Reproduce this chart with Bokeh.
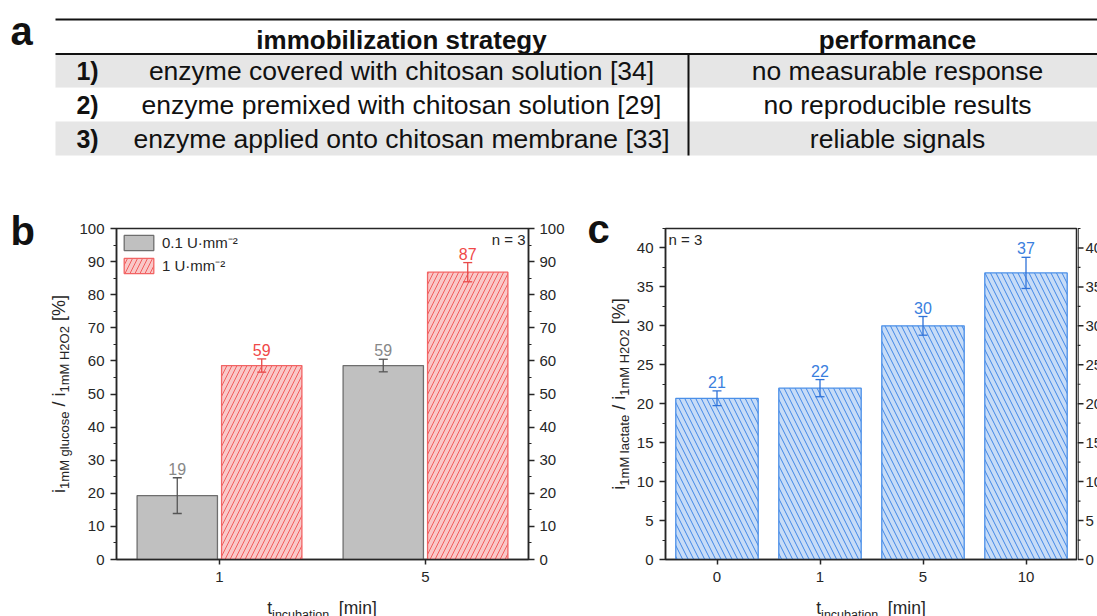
import math

from bokeh.core.properties import value
from bokeh.embed import file_html
from bokeh.layouts import column, row
from bokeh.models import (ColumnDataSource, FactorRange, Label, Legend, LegendItem,
                          LinearAxis, Range1d, SingleIntervalTicker, TeeHead, Whisker)
from bokeh.plotting import figure
from bokeh.resources import INLINE
from bokeh.transform import dodge

FONT = "Liberation Sans"
INK = "#262626"

# ---------------- data ----------------
# (a) immobilization strategies
table_header = ["immobilization strategy", "performance"]
row_numbers = ["1)", "2)", "3)"]
strategies = [
    "enzyme covered with chitosan solution [34]",
    "enzyme premixed with chitosan solution [29]",
    "enzyme applied onto chitosan membrane [33]",
]
performance = ["no measurable response", "no reproducible results", "reliable signals"]

# (b) glucose sensor, two enzyme loadings
b_times = ["1", "5"]
b_low = [19.3, 58.6]        # 0.1 U mm^-2
b_low_err = [5.4, 1.9]
b_high = [58.6, 86.8]       # 1 U mm^-2
b_high_err = [2.0, 2.9]
b_series = ["0.1 U\u00b7mm\u207b\u00b2", "1 U\u00b7mm\u207b\u00b2"]

# (c) lactate sensor
c_times = ["0", "1", "5", "10"]
c_vals = [20.7, 22.0, 30.0, 36.8]
c_err = [0.95, 1.1, 1.2, 2.0]

b_ymax = 100
c_ymax = 42.5
c_ticks = list(range(0, 41, 5))
c_minor = [t + 2.5 for t in c_ticks]

b_ytitle = [("i", 18, False), ("1mM glucose", 13, True), (" / i", 18, False),
            ("1mM H2O2", 13, True), (" [%]", 18, False)]
c_ytitle = [("i", 18, False), ("1mM lactate", 13, True), (" / i", 18, False),
            ("1mM H2O2", 13, True), (" [%]", 18, False)]
xtitle = [("t", 17.5, False), ("incubation", 12.5, True), ("  [min]", 17.5, False)]

# ---------------- page geometry ----------------
W = 1097
TOP_H = 170
LOW_H = 446
BORDER_T = 58
FRAME_H = 331
BORDER_B = 33
PANEL_H = BORDER_T + FRAME_H + BORDER_B
XSTRIP_H = LOW_H - PANEL_H
FRAME_TOP = TOP_H + BORDER_T
FRAME_BOTTOM = FRAME_TOP + FRAME_H
PANEL_BOTTOM = TOP_H + PANEL_H

# columns of the lower half (page x)
B_STRIP = (0, 76)
B_PLOT = (76, 575)
C_STRIP = (575, 633)
C_PLOT = (633, 1077)
C_RSTRIP = (1077, W)
B_FRAME = (115, 528)
C_FRAME = (664, 1077)

# the renderer sets the alphabetic baseline about this many ems below y
K = 0.28

# Arial / Liberation Sans advance widths (em)
ADV = {" ": 0.278, "/": 0.278, "[": 0.278, "]": 0.278, "%": 0.889, "H": 0.722,
       "O": 0.778, "M": 0.833, "m": 0.833, "i": 0.222, "l": 0.222, "t": 0.278,
       "c": 0.5, "s": 0.5}


def advance(s, size):
    return size * sum(ADV.get(ch, 0.556) for ch in s)


def strip(x0, x1, y0, y1, y_range=None):
    """Bare figure whose data coordinates are page pixels (y downwards)."""
    p = figure(width=x1 - x0, height=y1 - y0, x_range=Range1d(x0, x1),
               y_range=y_range if y_range is not None else Range1d(y1, y0),
               toolbar_location=None, output_backend="svg", x_axis_type=None,
               y_axis_type=None, min_border=0, outline_line_color=None)
    p.xgrid.visible = False
    p.ygrid.visible = False
    return p


def put(p, x, y, text, size, **kw):
    opts = dict(text_font=value(FONT), text_font_size=f"{size}px", text_color=INK,
                text_baseline="alphabetic")
    opts.update(kw)
    p.text(x=[x], y=[y], text=[text], **opts)


def vertical_title(p, pieces, x_base, y_mid):
    total = sum(advance(t, s) for t, s, _ in pieces)
    pos = 0.0
    for t, s, sub in pieces:
        lead = len(t) - len(t.lstrip())
        pos += advance(" " * lead, s)
        body = t.strip()
        xb = x_base + (4 if sub else 0) - K * s
        put(p, xb, y_mid + total / 2 - pos, body, s, angle=math.pi / 2)
        pos += advance(body, s)


def horizontal_title(p, pieces, x_mid, base_y):
    total = sum(advance(t, s) for t, s, _ in pieces)
    pos = x_mid - total / 2
    for t, s, sub in pieces:
        lead = len(t) - len(t.lstrip())
        pos += advance(" " * lead, s)
        body = t.strip()
        yb = base_y + (6 if sub else 0) - K * s
        put(p, pos, yb, body, s)
        pos += advance(body, s)


def style_y_axis(ax, interval):
    ax.ticker = SingleIntervalTicker(interval=interval, num_minor_ticks=2)
    ax.axis_line_color = INK
    ax.axis_line_width = 1.5
    ax.major_tick_line_color = INK
    ax.major_tick_line_width = 1.5
    ax.major_tick_out = 6
    ax.major_tick_in = 0
    ax.minor_tick_line_color = INK
    ax.minor_tick_line_width = 1.2
    ax.minor_tick_out = 3
    ax.minor_tick_in = 0
    ax.major_label_text_font = FONT
    ax.major_label_text_font_size = "15px"
    ax.major_label_text_color = INK
    ax.major_label_standoff = 6


def style_x_axis(ax):
    ax.axis_line_color = INK
    ax.axis_line_width = 1.5
    ax.major_tick_line_color = INK
    ax.major_tick_line_width = 1.5
    ax.major_tick_out = 5
    ax.major_tick_in = 0
    ax.minor_tick_line_color = None
    ax.major_label_text_font = FONT
    ax.major_label_text_font_size = "15px"
    ax.major_label_text_color = INK
    ax.major_label_standoff = 7


def bar_panel(width, frame_lr, x0, factors, y_end):
    p = figure(width=width, height=PANEL_H,
               x_range=FactorRange(factors=factors, range_padding=0),
               y_range=Range1d(0, y_end), toolbar_location=None, output_backend="svg",
               min_border_left=frame_lr[0] - x0, min_border_right=x0 + width - frame_lr[1],
               min_border_top=BORDER_T, min_border_bottom=BORDER_B,
               outline_line_color=INK, outline_line_width=1.5)
    p.xgrid.visible = False
    p.ygrid.visible = False
    return p


def whisker(p, base, up, dn, src, color):
    p.add_layout(Whisker(base=base, upper=up, lower=dn, source=src, level="annotation",
                         line_color=color, line_width=1.3,
                         upper_head=TeeHead(size=9, line_color=color, line_width=1.3),
                         lower_head=TeeHead(size=9, line_color=color, line_width=1.3)))


def corner_note(p, text, x_in_frame, y_end, align):
    p.add_layout(Label(x=x_in_frame, x_units="screen",
                       y=(FRAME_BOTTOM - (243 - K * 15)) * y_end / FRAME_H,
                       text=text, text_font=FONT, text_font_size="15px",
                       text_color=INK, text_align=align, text_baseline="alphabetic"))


# ---------------- (a) table ----------------
ta = strip(0, W, 0, TOP_H)
tbl_left, tbl_right = 55, W
row_top0, row_h = 53.5, 33.8
col_split = 688
n_rows = len(strategies)
tops = [row_top0 + i * row_h for i in range(n_rows)]
bottoms = [t + row_h for t in tops]
centers = [t + row_h / 2 for t in tops]
shades = ["#e6e6e6" if i % 2 == 0 else "#ffffff" for i in range(n_rows)]

ta.quad(left=tbl_left, right=tbl_right, top=tops, bottom=bottoms,
        fill_color=shades, line_color=None)
ta.segment(x0=[tbl_left, tbl_left], x1=[tbl_right, tbl_right], y0=[19, row_top0],
           y1=[19, row_top0], line_color="#111111", line_width=2.2)
ta.segment(x0=[col_split], x1=[col_split], y0=[row_top0], y1=[bottoms[-1]],
           line_color="#111111", line_width=2)

put(ta, 10, 42 - K * 40, "a", 40, text_font_style="bold", text_color="#111111")
ta.text(x=[401, 897], y=[46.5 - K * 26] * 2, text=table_header, text_font=value(FONT),
        text_font_style="bold", text_font_size="26px", text_color="#111111",
        text_align="center", text_baseline="alphabetic")
row_base = [c + 7.5 - K * 26 for c in centers]
ta.text(x=[87] * n_rows, y=row_base, text=row_numbers,
        text_font=value(FONT), text_font_style="bold", text_font_size="25px",
        text_color="#111111", text_align="center", text_baseline="alphabetic")
ta.text(x=[401] * n_rows, y=row_base, text=strategies,
        text_font=value(FONT), text_font_size="26.5px", text_color="#111111",
        text_align="center", text_baseline="alphabetic")
ta.text(x=[897] * n_rows, y=row_base, text=performance,
        text_font=value(FONT), text_font_size="26.5px", text_color="#111111",
        text_align="center", text_baseline="alphabetic")

# ---------------- (b) glucose ----------------
pb = bar_panel(B_PLOT[1] - B_PLOT[0], B_FRAME, B_PLOT[0], b_times, b_ymax)

src_b = ColumnDataSource(dict(
    t=b_times,
    low=b_low, low_up=[v + e for v, e in zip(b_low, b_low_err)],
    low_dn=[v - e for v, e in zip(b_low, b_low_err)],
    low_lab=[f"{v:.0f}" for v in b_low],
    high=b_high, high_up=[v + e for v, e in zip(b_high, b_high_err)],
    high_dn=[v - e for v, e in zip(b_high, b_high_err)],
    high_lab=[f"{v:.0f}" for v in b_high],
))
off = 0.205
x_low = dodge("t", -off, range=pb.x_range)
x_high = dodge("t", off, range=pb.x_range)

r_low = pb.vbar(x=x_low, top="low", width=0.39, source=src_b, fill_color="#c0c0c0",
                line_color="#6e6e6e", line_width=1.3)
r_high = pb.vbar(x=x_high, top="high", width=0.39, source=src_b, fill_color="#f9c8c8",
                 line_color="#f26464", line_width=1.3, hatch_pattern="right_diagonal_line",
                 hatch_color="#f25c5c", hatch_scale=10, hatch_weight=1)
whisker(pb, x_low, "low_up", "low_dn", src_b, "#555555")
whisker(pb, x_high, "high_up", "high_dn", src_b, "#e84a4a")
pb.text(x=x_low, y="low_up", text="low_lab", source=src_b, text_font=value(FONT),
        text_font_size="16px", text_color="#888888", text_align="center",
        text_baseline="bottom", y_offset=-3)
pb.text(x=x_high, y="high_up", text="high_lab", source=src_b, text_font=value(FONT),
        text_font_size="16px", text_color="#f04848", text_align="center",
        text_baseline="bottom", y_offset=-3)

style_x_axis(pb.xaxis[0])
style_y_axis(pb.yaxis[0], 10)
b_right = LinearAxis()
style_y_axis(b_right, 10)
b_right.major_label_standoff = 5
pb.add_layout(b_right, "right")

pb.add_layout(Legend(items=[LegendItem(label=b_series[0], renderers=[r_low]),
                            LegendItem(label=b_series[1], renderers=[r_high])],
                     location="top_left", margin=4, padding=2, spacing=3,
                     glyph_width=37, glyph_height=19, label_height=19, label_standoff=5,
                     label_text_font=FONT, label_text_font_size="15px",
                     label_text_color=INK, border_line_color=None,
                     background_fill_alpha=0))
corner_note(pb, "n = 3", 524 - B_FRAME[0], b_ymax, "right")

sb = strip(B_STRIP[0], B_STRIP[1], TOP_H, PANEL_BOTTOM)
put(sb, 10, 242 - K * 40, "b", 40, text_font_style="bold", text_color="#111111")
vertical_title(sb, b_ytitle, 64, (FRAME_TOP + FRAME_BOTTOM) / 2)

# ---------------- (c) lactate ----------------
pc = bar_panel(C_PLOT[1] - C_PLOT[0], C_FRAME, C_PLOT[0], c_times, c_ymax)

src_c = ColumnDataSource(dict(
    t=c_times, v=c_vals,
    up=[v + e for v, e in zip(c_vals, c_err)],
    dn=[v - e for v, e in zip(c_vals, c_err)],
    lab=[f"{v:.0f}" for v in c_vals],
))
pc.vbar(x="t", top="v", width=0.8, source=src_c, fill_color="#c7dcf7",
        line_color="#4a8fe8", line_width=1.3, hatch_pattern="left_diagonal_line",
        hatch_color="#3f86e6", hatch_scale=11, hatch_weight=1)
whisker(pc, "t", "up", "dn", src_c, "#2f72d8")
pc.text(x="t", y="up", text="lab", source=src_c, text_font=value(FONT),
        text_font_size="16px", text_color="#3a80de", text_align="center",
        text_baseline="bottom", y_offset=-3)

style_x_axis(pc.xaxis[0])
style_y_axis(pc.yaxis[0], 5)
corner_note(pc, "n = 3", 667 - C_FRAME[0], c_ymax, "left")

sc = strip(C_STRIP[0], C_STRIP[1], TOP_H, PANEL_BOTTOM)
put(sc, 587, 240 - K * 40, "c", 40, text_font_style="bold", text_color="#111111")
vertical_title(sc, c_ytitle, 624, (FRAME_TOP + FRAME_BOTTOM) / 2)

# right-hand axis of (c), running off the page edge
per_value = FRAME_H / c_ymax
rc = strip(C_RSTRIP[0], C_RSTRIP[1], TOP_H, PANEL_BOTTOM,
           y_range=Range1d((FRAME_BOTTOM - PANEL_BOTTOM) / per_value,
                           (FRAME_BOTTOM - TOP_H) / per_value))
ax_x = C_FRAME[1]
rc.segment(x0=[ax_x + 0.5], x1=[ax_x + 0.5], y0=[0], y1=[c_ymax],
           line_color=INK, line_width=1.5)
rc.segment(x0=[ax_x] * len(c_ticks), x1=[ax_x + 6] * len(c_ticks), y0=c_ticks, y1=c_ticks,
           line_color=INK, line_width=1.5)
rc.segment(x0=[ax_x] * len(c_minor), x1=[ax_x + 3] * len(c_minor), y0=c_minor, y1=c_minor,
           line_color=INK, line_width=1.2)
rc.text(x=[ax_x + 8] * len(c_ticks), y=c_ticks, text=[str(t) for t in c_ticks],
        text_font=value(FONT), text_font_size="15px", text_color=INK,
        text_baseline="middle")

# ---------------- x titles of (b) and (c) ----------------
xs = strip(0, W, PANEL_BOTTOM, TOP_H + LOW_H)
horizontal_title(xs, xtitle, sum(B_FRAME) / 2, 612)
horizontal_title(xs, xtitle, sum(C_FRAME) / 2, 612)

# the bar panels sit in their own columns so their borders stay independent
# of the neighbouring text strips
layout = column(ta, row(sb, column(pb), sc, column(pc), rc), xs)
open("out.html", "w").write(file_html(layout, INLINE))
